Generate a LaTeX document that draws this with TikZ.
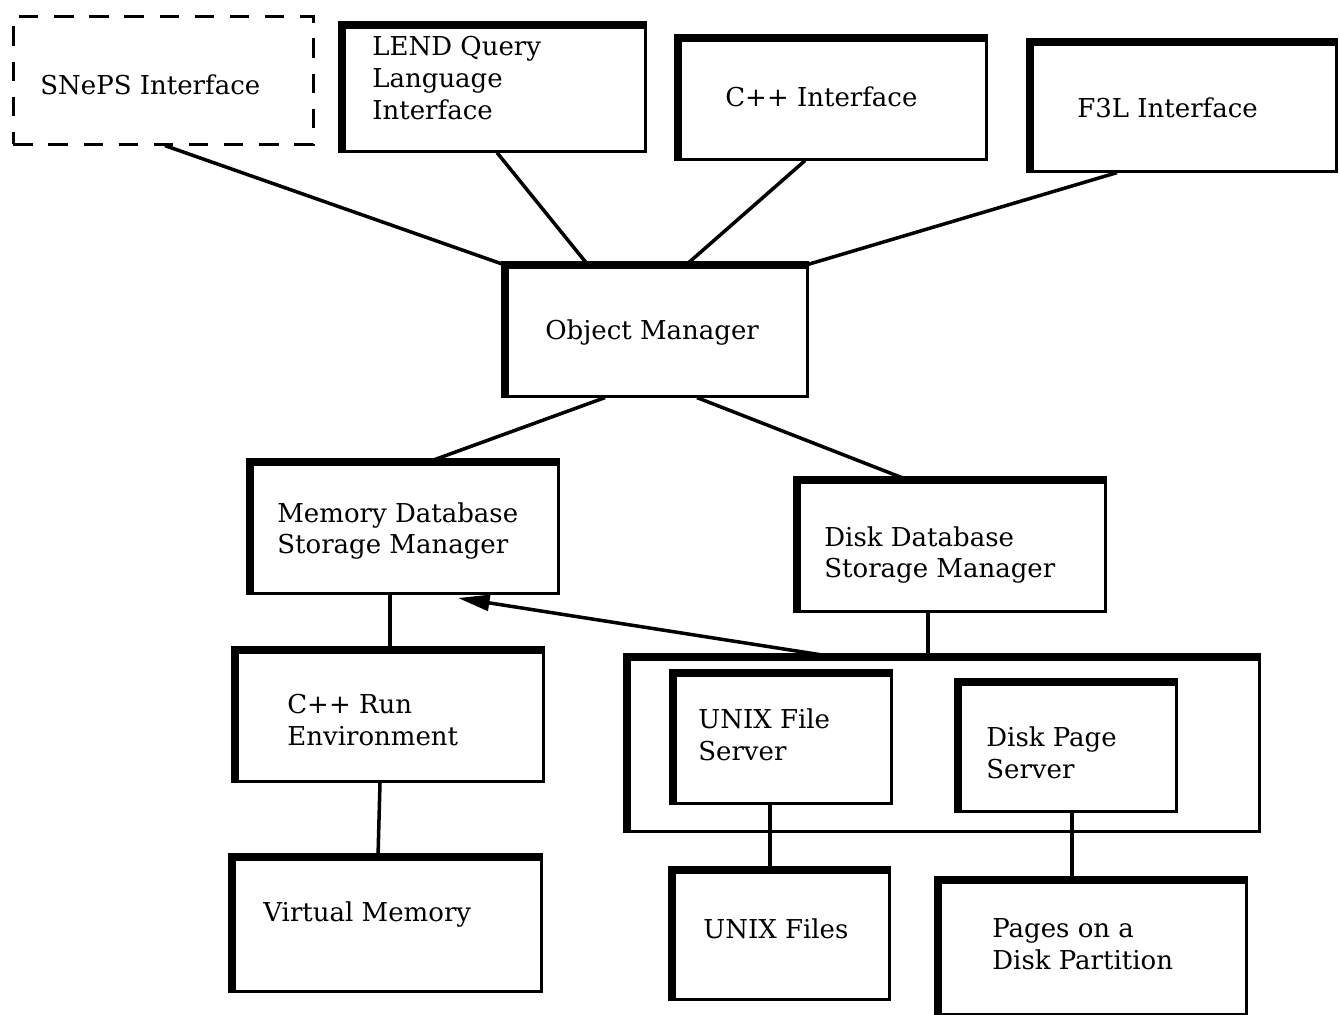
\documentclass[tikz,border=0pt]{standalone}
\usepackage{fontspec}
\setmainfont{DejaVu Serif}
\usetikzlibrary{arrows.meta}
\begin{document}
\begin{tikzpicture}[x=0.02cm,y=-0.02cm,
  box/.style={draw, line width=1.5pt, anchor=north west, inner sep=0pt},
  dbox/.style={draw, line width=1.5pt, dash pattern=on 11pt off 9pt, anchor=north west, inner sep=0pt},
  lbl/.style={anchor=west, inner sep=0pt, align=left, font=\fontsize{14.8}{18}\selectfont},
  heavy/.style={line width=4pt, line cap=butt, line join=miter},
  conn/.style={line width=2pt},
]
\useasboundingbox (0,0) rectangle (1340,1015);

% boxes
\node[dbox, minimum width=6.0cm, minimum height=2.56cm] (sneps) at (12,15) {};
\node[box, minimum width=6.04cm, minimum height=2.5cm] (lend) at (342,25) {};
\node[box, minimum width=6.14cm, minimum height=2.4cm] (cpp) at (678,38) {};
\node[box, minimum width=6.1cm, minimum height=2.56cm] (f3l) at (1030,42) {};
\node[box, minimum width=6.02cm, minimum height=2.6cm] (om) at (505,265) {};
\node[box, minimum width=6.14cm, minimum height=2.6cm] (mem) at (250,462) {};
\node[box, minimum width=6.14cm, minimum height=2.6cm] (disk) at (797,480) {};
\node[box, minimum width=12.62cm, minimum height=3.46cm] (grp) at (627,657) {};
\node[box, minimum width=4.34cm, minimum height=2.58cm] (ufs) at (673,673) {};
\node[box, minimum width=4.34cm, minimum height=2.56cm] (dps) at (958,682) {};
\node[box, minimum width=6.14cm, minimum height=2.6cm] (run) at (235,650) {};
\node[box, minimum width=6.16cm, minimum height=2.66cm] (vm) at (232,857) {};
\node[box, minimum width=4.32cm, minimum height=2.56cm] (uf) at (672,870) {};
\node[box, minimum width=6.14cm, minimum height=2.66cm] (pdp) at (938,880) {};

% heavy top and left edges
\foreach \n in {lend,cpp,f3l,om,mem,disk,grp,ufs,dps,run,vm,uf,pdp}
  \draw[heavy] (\n.south west) -- (\n.north west) -- (\n.north east);

% labels
\node[lbl] (tsneps) at (40,85) {SNePS Interface};
\node[lbl] (tlend) at (372,78) {LEND Query\\Language\\Interface};
\node[lbl] (tcpp) at (725,97) {C++ Interface};
\node[lbl] (tf3l) at (1077,108) {F3L Interface};
\node[lbl] (tom) at (545,333) {Object Manager};
\node[lbl] (tmem) at (277,531) {Memory Database\\Storage Manager};
\node[lbl] (tdisk) at (824,555) {Disk Database\\Storage Manager};
\node[lbl] (tufs) at (698,735) {UNIX File\\Server};
\node[lbl] (tdps) at (986,753) {Disk Page\\Server};
\node[lbl] (trun) at (287,720) {C++ Run\\Environment};
\node[lbl] (tvm) at (263,914) {Virtual Memory};
\node[lbl] (tuf) at (703,929) {UNIX Files};
\node[lbl] (tpdp) at (992,944) {Pages on a\\Disk Partition};

% connectors
\draw[conn] (165,0 |- sneps.south) -- (505,0 |- om.north);
\draw[conn] (497,0 |- lend.south) -- (588,0 |- om.north);
\draw[conn] (805,0 |- cpp.south) -- (686,0 |- om.north);
\draw[conn] (1117,0 |- f3l.south) -- (806,0 |- om.north);
\draw[conn] (605,0 |- om.south) -- (428,0 |- mem.north);
\draw[conn] (697,0 |- om.south) -- (908,0 |- disk.north);
\draw[conn] (390,0 |- mem.south) -- (390,0 |- run.north);
\draw[conn] (380,0 |- run.south) -- (378,0 |- vm.north);
\draw[conn] (928,0 |- disk.south) -- (928,0 |- grp.north);
\draw[conn] (770,0 |- ufs.south) -- (770,0 |- uf.north);
\draw[conn] (1072,0 |- dps.south) -- (1072,0 |- pdp.north);
\coordinate (agrp) at (835,0 |- grp.north);
\coordinate (amem) at (458,598);
\draw[conn, -{Triangle[length=18pt, width=9pt]}] (agrp) -- (amem);
\end{tikzpicture}
\end{document}
